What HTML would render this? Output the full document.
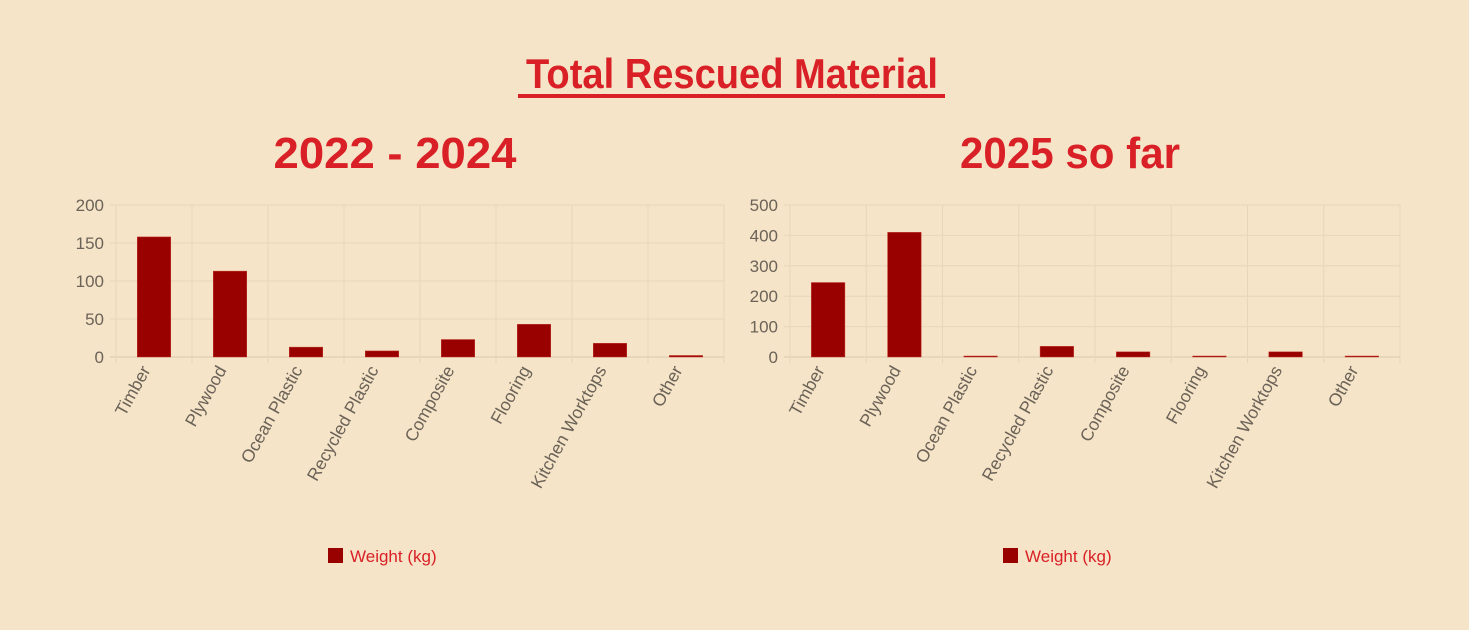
<!DOCTYPE html>
<html><head><meta charset="utf-8"><style>
body{margin:0;background:#f5e4c7;width:1469px;height:625px;overflow:hidden;font-family:"Liberation Sans",sans-serif}
</style></head><body>
<svg width="1469" height="625" xmlns="http://www.w3.org/2000/svg">
<rect width="1469" height="625" fill="#f5e4c7"/>
<text x="732" y="88" text-anchor="middle" font-size="42" font-weight="bold" fill="#d92027" textLength="412" lengthAdjust="spacingAndGlyphs">Total Rescued Material</text>
<rect x="518" y="94" width="427" height="4" fill="#d92027"/>
<text x="395" y="168" text-anchor="middle" font-size="44" font-weight="bold" fill="#d92027" textLength="243" lengthAdjust="spacingAndGlyphs">2022 - 2024</text>
<text x="1070" y="168" text-anchor="middle" font-size="44" font-weight="bold" fill="#d92027" textLength="220" lengthAdjust="spacingAndGlyphs">2025 so far</text>
<g id="c1"></g>
<g id="c2"></g>
</svg>
<script>
const categories=["Timber","Plywood","Ocean Plastic","Recycled Plastic","Composite","Flooring","Kitchen Worktops","Other"];
const values2022=[158,113,13,8,23,43,18,2];
const values2025=[245,410,1,35,17,3,17,2];
const ticks2022=[0,50,100,150,200];
const ticks2025=[0,100,200,300,400,500];
const NS="http://www.w3.org/2000/svg";
function mk(p,t,a){const e=document.createElementNS(NS,t);for(const k in a)e.setAttribute(k,a[k]);p.appendChild(e);return e;}
function draw(id,vals,ticks,x0,x1,name){
  const g=document.getElementById(id);
  const y0=357,yT=205,max=ticks[ticks.length-1];
  const ys=v=>y0-(v/max)*(y0-yT);
  const bw=(x1-x0)/categories.length;
  const xs=i=>x0+bw*(i+0.5);
  ticks.forEach(t=>{
    const l=mk(g,'line',{x1:x0-6,x2:x1,y1:ys(t),y2:ys(t),stroke:t===0?'#d8c8ac':'#e6d6ba','stroke-width':1});
    
    
    const tx=mk(g,'text',{x:x0-12,y:ys(t)+6,'text-anchor':'end','font-size':17,fill:'#6b6258'});
    tx.textContent=t;
    
    
  });
  for(let i=0;i<=categories.length;i++){
    const l=mk(g,'line',{x1:x0+bw*i,x2:x0+bw*i,y1:yT,y2:y0+6,stroke:'#e6d6ba','stroke-width':1});
    
    
  }
  categories.forEach((c,i)=>{
    const w=bw*0.44;
    const h=Math.max(y0-ys(vals[i]),1);
    const r=mk(g,'rect',{x:xs(i)-w/2,y:y0-h,width:w,height:h,fill:'#990000',stroke:'#c0392b','stroke-width':0.5});
    
    
    const tx=mk(g,'text',{x:0,y:0,'text-anchor':'end','font-size':17.5,fill:'#6b6258',transform:`translate(${xs(i)-3},${y0+13}) rotate(-61)`});
    tx.textContent=c;
    
    
  });
  const cx=(x0+x1)/2-50;
  const lr=mk(g,'rect',{x:cx-42,y:548,width:15,height:15,fill:'#990000'});
  
  
  const lt=mk(g,'text',{x:cx-20,y:562,'font-size':17,fill:'#d92027'});
  lt.textContent='Weight (kg)';
  
  
}
draw('c1',values2022,ticks2022,116,724,'2022');
draw('c2',values2025,ticks2025,790,1400,'2025');
</script>
</body></html>
